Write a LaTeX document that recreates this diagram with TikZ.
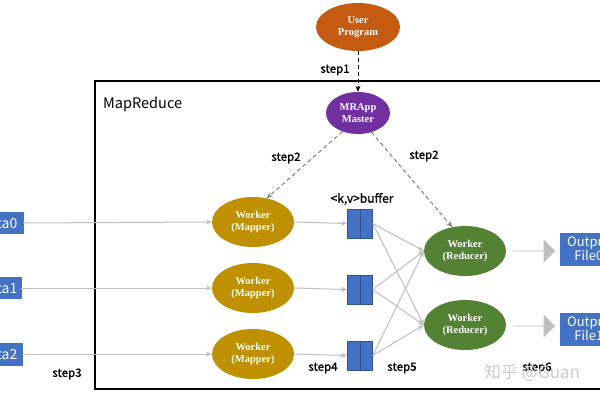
\documentclass[tikz,border=0pt]{standalone}
\usepackage{fontspec}
\setmainfont{Liberation Serif}
\newfontfamily\cjk{Noto Sans CJK SC}
\newfontfamily\cjkb[FakeBold=1.2]{Noto Sans CJK SC}
\usetikzlibrary{shapes.geometric,shapes.arrows,arrows.meta}
\definecolor{uorange}{HTML}{C55A11}
\definecolor{upurple}{HTML}{7030A0}
\definecolor{ugold}{HTML}{BF9000}
\definecolor{ugreen}{HTML}{548235}
\definecolor{ublue}{HTML}{4472C4}
\definecolor{ublueb}{HTML}{2F528F}
\definecolor{lgray}{HTML}{BFBFBF}
\definecolor{dgray}{HTML}{808080}
\tikzset{
  ell/.style={ellipse, draw=none, text=white, font=\fontsize{10.5}{12}\selectfont\bfseries, align=center, inner sep=0pt},
  blu/.style={fill=ublue, draw=ublue, text=white, font=\cjk\fontsize{14}{15}\selectfont, align=center, inner sep=4pt},
  buf/.style={rectangle, fill=ublue, draw=ublueb, line width=0.6pt, minimum width=25pt, minimum height=29pt, inner sep=0pt},
  steplab/.style={font=\cjkb\fontsize{11.5}{13}\selectfont, text=black, inner sep=0pt},
  flow/.style={draw=lgray, line width=1pt, -{Stealth[length=6pt,width=5pt]}},
  ctl/.style={draw=dgray, line width=1pt, dashed, dash pattern=on 4pt off 3pt, -{Stealth[length=6pt,width=5pt]}},
  bigarrow/.style={single arrow, fill=lgray, draw=none, minimum height=42pt, minimum width=23pt, single arrow head extend=6pt, inner sep=0pt}
}
\begin{document}
\begin{tikzpicture}[x=1pt,y=-1pt]
\useasboundingbox (0,0) rectangle (600,400);
\clip (0,0) rectangle (600,400);
\fill[white] (0,0) rectangle (600,400);
% main frame
\draw[line width=2pt] (95,81) rectangle (615,389);
\node[anchor=west, font=\cjk\fontsize{14.5}{16}\selectfont, inner sep=0pt] (mr) at (103,104) {MapReduce};
% nodes
\node[ell, fill=uorange, minimum width=84pt, minimum height=48pt] (up) at (358,27) {User\\Program};
\node[ell, fill=upurple, minimum width=64pt, minimum height=42pt] (am) at (358,113) {MRApp\\Master};
\node[ell, fill=ugold, minimum width=82pt, minimum height=50pt] (m0) at (253,222) {Worker\\(Mapper)};
\node[ell, fill=ugold, minimum width=82pt, minimum height=50pt] (m1) at (253,288) {Worker\\(Mapper)};
\node[ell, fill=ugold, minimum width=82pt, minimum height=50pt] (m2) at (253,354) {Worker\\(Mapper)};
\node[ell, fill=ugreen, minimum width=82pt, minimum height=50pt] (r0) at (465,251) {Worker\\(Reducer)};
\node[ell, fill=ugreen, minimum width=82pt, minimum height=50pt] (r1) at (465,325) {Worker\\(Reducer)};
% data
\node[blu, anchor=east, minimum height=21pt, inner xsep=5.5pt] (d0) at (23,223) {Data0};
\node[blu, anchor=east, minimum height=21pt, inner xsep=3.5pt] (d1) at (21,288) {Data1};
\node[blu, anchor=east, minimum height=22pt, inner xsep=4.5pt] (d2) at (22,354) {Data2};
% outputs
\node[blu, anchor=west, minimum height=32pt, inner xsep=7pt, font=\cjk\fontsize{13}{14}\selectfont] (o0) at (560,249) {Output\\File0};
\node[blu, anchor=west, minimum height=32pt, inner xsep=7pt, font=\cjk\fontsize{13}{14}\selectfont] (o1) at (560,329) {Output\\File1};
% buffers
\node[buf] (b0) at (360,223.5) {};
\node[buf] (b1) at (360,289.5) {};
\node[buf] (b2) at (360,355.5) {};
\foreach \b in {b0,b1,b2} \draw[ublueb, line width=0.6pt] (\b.north) -- (\b.south);
\node[font=\cjkb\fontsize{12}{14}\selectfont, inner sep=0pt] (bl) at (362,199) {<k,v>buffer};
% control arrows
\draw[black, line width=1pt, dashed, dash pattern=on 4pt off 3pt, -{Stealth[length=6pt,width=5pt]}] (up.south) -- (am.north);
\draw[ctl] (am.230) -- (m0.60);
\draw[ctl] (am.305) -- (r0.118);
% data flow
\draw[flow] (d0.east) -- (m0.west);
\draw[flow] (d1.east) -- (m1.west);
\draw[flow] (d2.east) -- (m2.west);
\draw[flow] (m0.east) -- (b0.west);
\draw[flow] (m1.east) -- (b1.west);
\draw[flow] (m2.east) -- (b2.west);
\foreach \b in {b0,b1,b2} {
  \draw[flow] (\b.east) -- (r0.west);
  \draw[flow] (\b.east) -- (r1.west);
}
% big arrows
\node[bigarrow] (a0) at (534,251) {};
\node[bigarrow] (a1) at (534,326) {};
% step labels
\node[steplab] (s1) at (335,70) {step1};
\node[steplab] (s2a) at (286,158) {step2};
\node[steplab] (s2b) at (424,156) {step2};
\node[steplab] (s3) at (67,374) {step3};
\node[steplab] (s4) at (323,368) {step4};
\node[steplab] (s5) at (402,368) {step5};
\node[steplab] (s6) at (537,368) {step6};
% watermark
\node[anchor=west, font=\cjk\fontsize{17}{19}\selectfont, text=gray!40, inner sep=0pt] (wm) at (484,373) {知乎 @Guan};
\end{tikzpicture}
\end{document}
